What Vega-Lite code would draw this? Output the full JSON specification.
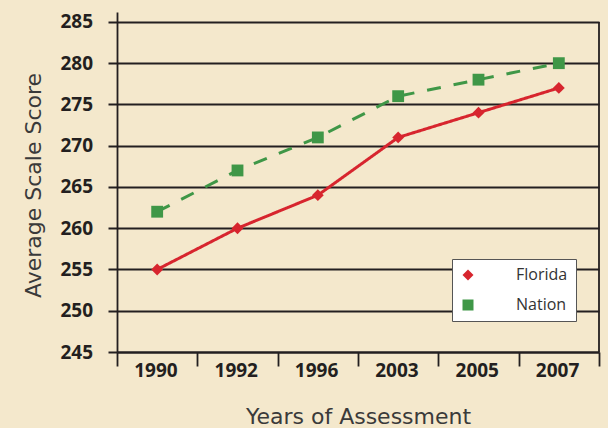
{
  "$schema": "https://vega.github.io/schema/vega-lite/v6.json",
  "width": 482,
  "height": 340,
  "autosize": {"type": "none"},
  "padding": {"left": 117, "top": 12, "right": 9, "bottom": 76},
  "background": "#f4e8cc",
  "config": {"view": {"stroke": null}},
  "data": {"values": [
    {"year": "1990", "series": "Florida", "score": 255},
    {"year": "1992", "series": "Florida", "score": 260},
    {"year": "1996", "series": "Florida", "score": 264},
    {"year": "2003", "series": "Florida", "score": 271},
    {"year": "2005", "series": "Florida", "score": 274},
    {"year": "2007", "series": "Florida", "score": 277},
    {"year": "1990", "series": "Nation", "score": 262},
    {"year": "1992", "series": "Nation", "score": 267},
    {"year": "1996", "series": "Nation", "score": 271},
    {"year": "2003", "series": "Nation", "score": 276},
    {"year": "2005", "series": "Nation", "score": 278},
    {"year": "2007", "series": "Nation", "score": 280}
  ]},
  "layer": [
    {
      "data": {"values": [{"edge": "2007", "top": 285, "bottom": 245}]},
      "mark": {"type": "rule", "color": "#231f20", "strokeWidth": 1.8},
      "encoding": {
        "x": {"field": "edge", "type": "nominal", "sort": null, "bandPosition": 1},
        "y": {"field": "top", "type": "quantitative"},
        "y2": {"field": "bottom"}
      }
    },
    {
      "mark": {"type": "line", "strokeWidth": 3},
      "encoding": {
        "x": {
          "field": "year", "type": "nominal", "sort": null,
          "scale": {"type": "band", "paddingInner": 0, "paddingOuter": 0, "domain": ["1990", "1992", "1996", "2003", "2005", "2007"]},
          "axis": {
            "title": "Years of Assessment", "labelAngle": 0, "tickBand": "extent", "tickSize": 14,
            "tickColor": "#231f20", "tickWidth": 1.8, "domainColor": "#231f20", "domainWidth": 2,
            "labelPadding": 4.5, "labelOffset": 20, "labelFont": "Open Sans", "labelFontWeight": "bold", "labelFontSize": 19,
            "labelColor": "#231f20", "titleFont": "DejaVu Sans", "titleFontSize": 22, "titleFontWeight": "normal",
            "titleColor": "#3a3a3a", "titleY": 71, "titleBaseline": "alphabetic", "grid": false
          }
        },
        "y": {
          "field": "score", "type": "quantitative",
          "scale": {"domain": [245, 286.2], "nice": false, "zero": false},
          "axis": {
            "values": [245, 250, 255, 260, 265, 270, 275, 280, 285],
            "grid": true, "gridColor": "#231f20", "gridWidth": 2, "gridOpacity": 1,
            "domainColor": "#231f20", "domainWidth": 1.8, "tickColor": "#231f20", "tickWidth": 2, "tickSize": 9,
            "labelPadding": 15.5, "labelFont": "Open Sans", "labelFontWeight": "bold", "labelFontSize": 19,
            "labelColor": "#231f20",
            "title": "Average Scale Score", "titleFont": "DejaVu Sans", "titleFontSize": 22, "titleFontWeight": "normal",
            "titleColor": "#3a3a3a", "titleAngle": -90, "titleX": -84, "titleY": 173, "titleBaseline": "middle", "titleAlign": "center"
          }
        },
        "color": {
          "field": "series", "type": "nominal",
          "scale": {"domain": ["Florida", "Nation"], "range": ["#d7252e", "#3f9747"]},
          "legend": {
            "title": null, "orient": "none", "legendX": 335, "legendY": 247,
            "fillColor": "#ffffff", "strokeColor": "#555555", "padding": 8,
            "symbolSize": 121, "symbolStrokeWidth": 0,
            "labelFont": "Open Sans", "labelFontSize": 16, "labelColor": "#333333", "labelOffset": 40,
            "rowPadding": 14,
            "encode": {
              "symbols": {
                "update": {
                  "strokeWidth": {"value": 0},
                  "size": {"value": 121},
                  "opacity": {"value": 1}
                }
              }
            }
          }
        },
        "strokeDash": {
          "field": "series", "type": "nominal",
          "scale": {"domain": ["Florida", "Nation"], "range": [[1, 0], [14, 13]]},
          "legend": null
        }
      }
    },
    {
      "mark": {"type": "point", "filled": true, "opacity": 1, "size": 140},
      "encoding": {
        "x": {"field": "year", "type": "nominal", "sort": null},
        "y": {"field": "score", "type": "quantitative"},
        "color": {"field": "series", "type": "nominal"},
        "shape": {
          "field": "series", "type": "nominal",
          "scale": {"domain": ["Florida", "Nation"], "range": ["diamond", "square"]},
          "legend": null
        }
      }
    }
  ]
}
